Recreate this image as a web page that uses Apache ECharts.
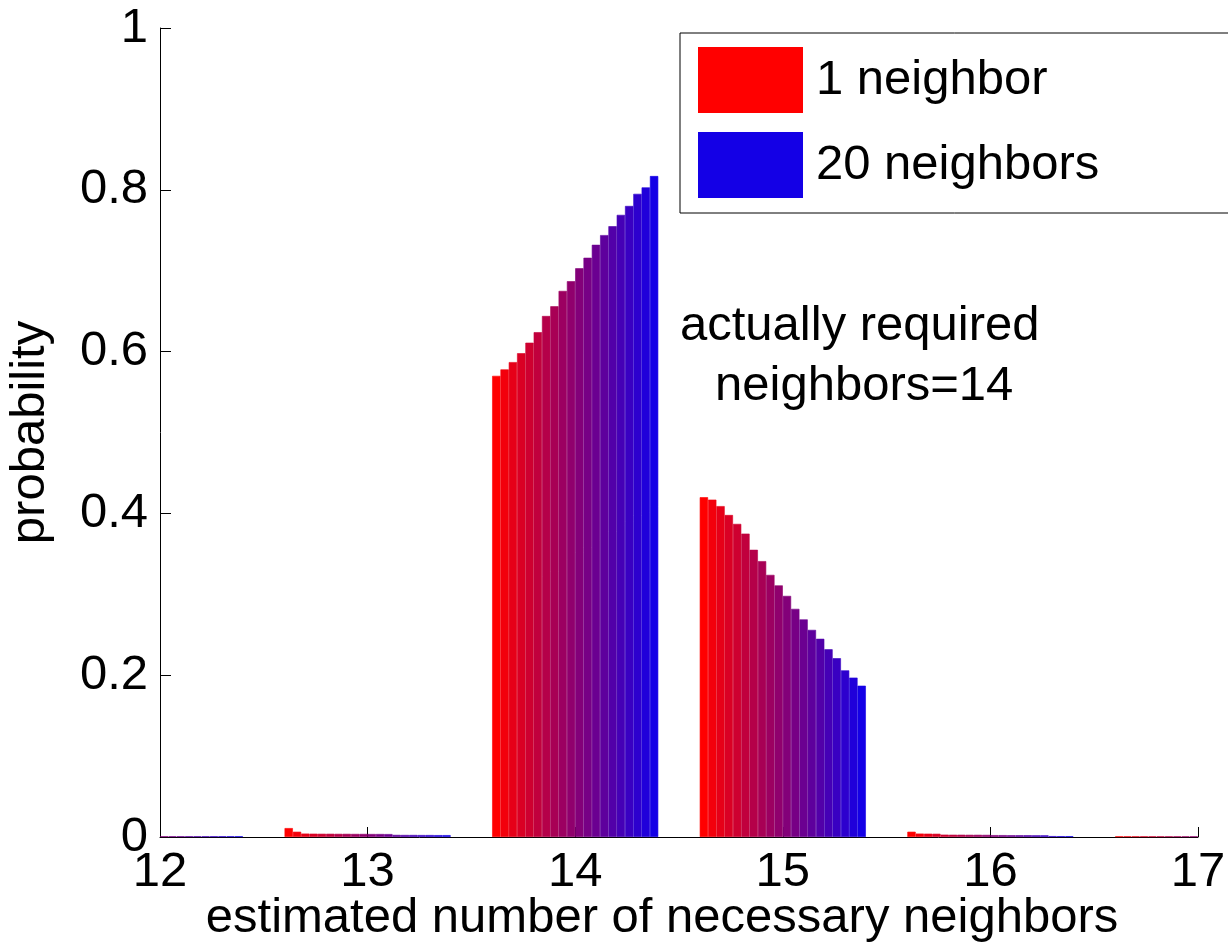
<!DOCTYPE html>
<html>
<head>
<meta charset="utf-8">
<script src="https://cdn.jsdelivr.net/npm/echarts@6/dist/echarts.min.js"></script>
<style>
html,body{margin:0;padding:0;background:#fff;}
#chart{width:1228px;height:946px;}
</style>
</head>
<body>
<div id="chart"></div>
<script>
// categories on the x axis
var categories = ['12', '13', '14', '15', '16', '17'];
var yTicks = [0, 0.2, 0.4, 0.6, 0.8, 1];

// probability per neighbor count (1..20) for each estimated value
// (bars that fall outside the plot at 12 and 17 are left out: null)
var g12 = [null, null, null, null, null, null, null, null, null, null,
           0.0009, 0.0009, 0.0009, 0.0009, 0.0009, 0.0009, 0.0009, 0.0009, 0.0009, 0.0009];
var g13 = [0.011, 0.0065, 0.0042, 0.0041, 0.0040, 0.0040, 0.0039, 0.0039, 0.0038, 0.0038,
           0.0037, 0.0037, 0.0036, 0.0026, 0.0025, 0.0025, 0.0024, 0.0024, 0.0023, 0.0023];
var g14 = [0.570, 0.578, 0.587, 0.598, 0.611, 0.624, 0.644, 0.656, 0.675, 0.687,
           0.703, 0.716, 0.732, 0.744, 0.755, 0.769, 0.780, 0.795, 0.803, 0.817];
var g15 = [0.420, 0.417, 0.409, 0.398, 0.387, 0.375, 0.355, 0.341, 0.324, 0.311,
           0.298, 0.282, 0.269, 0.256, 0.245, 0.232, 0.221, 0.206, 0.197, 0.187];
var g16 = [0.0065, 0.0042, 0.0041, 0.0040, 0.0029, 0.0028, 0.0028, 0.0027, 0.0027, 0.0026,
           0.0023, 0.0023, 0.0022, 0.0022, 0.0022, 0.0021, 0.0021, 0.0011, 0.0010, 0.0010];
var g17 = [0.0008, 0.0008, 0.0008, 0.0008, 0.0008, 0.0008, 0.0008, 0.0008, 0.0008, 0.0008,
           null, null, null, null, null, null, null, null, null, null];

var groups = [g12, g13, g14, g15, g16, g17];
var FONT = 'Liberation Sans, Arial, sans-serif';

// red -> blue
function colorAt(i, n) {
    var t = i / (n - 1);
    var r = Math.round(255 - 235 * t);
    var b = Math.round(230 * t);
    return 'rgb(' + r + ',0,' + b + ')';
}

var series = [];
for (var i = 0; i < 20; i++) {
    var name = (i == 0) ? '1 neighbor' : (i + 1) + ' neighbors';
    var c = colorAt(i, 20);
    series.push({
        name: name,
        type: 'bar',
        barGap: '0%',
        barCategoryGap: '20%',
        itemStyle: { color: c, borderColor: c, borderWidth: 0.6 },
        data: groups.map(function (g) { return g[i]; })
    });
}

var myChart = echarts.init(document.getElementById('chart'));
var option = {
    animation: false,
    textStyle: { fontFamily: FONT },
    grid: { left: 160, right: 30, top: 28, bottom: 109, outerBoundsMode: 'none', containLabel: false },
    legend: {
        data: ['1 neighbor', '20 neighbors'],
        orient: 'vertical',
        left: 680,
        top: 33,
        icon: 'rect',
        itemWidth: 105,
        itemHeight: 66,
        itemGap: 19,
        padding: [14, 300, 15, 18],
        borderColor: '#000',
        borderWidth: 1,
        selectedMode: false,
        itemStyle: { borderWidth: 0 },
        textStyle: { fontSize: 49, color: '#000', fontFamily: FONT, padding: [0, 0, 0, 8] }
    },
    xAxis: {
        type: 'category',
        data: categories,
        boundaryGap: false,
        name: 'estimated number of necessary neighbors',
        nameLocation: 'middle',
        nameGap: 57,
        nameMoveOverlap: false,
        nameTextStyle: { fontSize: 49, color: '#000', fontFamily: FONT, padding: [0, 34, 0, 0] },
        axisLine: { lineStyle: { color: '#000', width: 1 } },
        axisTick: { inside: true, length: 10, lineStyle: { color: '#000' } },
        axisLabel: { fontSize: 49, color: '#000', margin: 11, fontFamily: FONT },
        splitLine: { show: false }
    },
    yAxis: {
        type: 'value',
        min: 0,
        max: 1,
        interval: 0.2,
        name: 'probability',
        nameLocation: 'middle',
        nameGap: 105,
        nameMoveOverlap: false,
        nameTextStyle: { fontSize: 49, color: '#000', fontFamily: FONT },
        axisLine: { show: true, lineStyle: { color: '#000', width: 1 } },
        axisTick: { show: true, inside: true, length: 11, lineStyle: { color: '#000' } },
        axisLabel: {
            fontSize: 49, color: '#000', margin: 12, fontFamily: FONT,
            formatter: function (v) {
                for (var k = 0; k < yTicks.length; k++) {
                    if (Math.abs(v - yTicks[k]) < 1e-9) return String(yTicks[k]);
                }
                return '';
            }
        },
        splitLine: { show: false }
    },
    graphic: [
        {
            type: 'text', left: 865 - 185, top: 302,
            style: { text: 'actually required', font: '49px ' + FONT, fill: '#000' }
        },
        {
            type: 'text', left: 865 - 150, top: 362,
            style: { text: 'neighbors=14', font: '49px ' + FONT, fill: '#000' }
        }
    ],
    series: series
};
myChart.setOption(option);
</script>
</body>
</html>
